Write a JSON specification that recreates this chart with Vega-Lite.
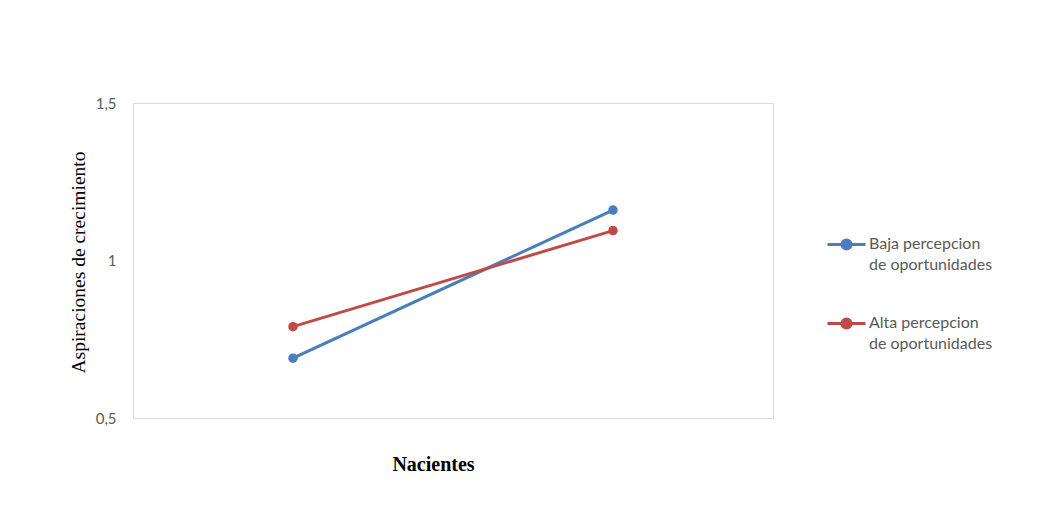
{
  "$schema": "https://vega.github.io/schema/vega-lite/v6.json",
  "autosize": "none",
  "width": 640,
  "height": 315,
  "padding": {"left": 133, "top": 103, "right": 266, "bottom": 98},
  "background": "white",
  "config": {
    "view": {"stroke": "#d9d9d9", "strokeWidth": 1},
    "axis": {"grid": false}
  },
  "data": {
    "values": [
      {"nivel": "Bajo", "serie": "Baja percepcion de oportunidades", "valor": 0.69},
      {"nivel": "Alto", "serie": "Baja percepcion de oportunidades", "valor": 1.16},
      {"nivel": "Bajo", "serie": "Alta percepcion de oportunidades", "valor": 0.79},
      {"nivel": "Alto", "serie": "Alta percepcion de oportunidades", "valor": 1.095}
    ]
  },
  "encoding": {
    "x": {
      "field": "nivel", "type": "ordinal", "sort": ["Bajo", "Alto"],
      "scale": {"type": "point", "padding": 0.5},
      "axis": {
        "title": "Nacientes", "labels": false, "ticks": false, "domain": false,
        "titleFont": "Liberation Serif", "titleFontSize": 20, "titleFontWeight": "bold",
        "titleColor": "#000000", "titleX": 300, "titleY": 46, "titleBaseline": "middle"
      }
    },
    "y": {
      "field": "valor", "type": "quantitative",
      "scale": {"domain": [0.5, 1.5], "nice": false, "zero": false},
      "axis": {
        "values": [0.5, 1, 1.5], "format": "~g",
        "labelExpr": "replace(datum.label, '.', ',')",
        "ticks": false, "domain": false, "labelPadding": 17,
        "labelFont": "Lato", "labelFontSize": 15, "labelColor": "#595959",
        "title": "Aspiraciones de crecimiento",
        "titleFont": "Liberation Serif", "titleFontSize": 19.5, "titleFontWeight": "normal",
        "titleColor": "#000000", "titleX": -55, "titleY": 159, "titleBaseline": "middle", "titleAlign": "center"
      }
    },
    "color": {
      "field": "serie", "type": "nominal",
      "sort": ["Baja percepcion de oportunidades", "Alta percepcion de oportunidades"],
      "scale": {"domain": ["Baja percepcion de oportunidades", "Alta percepcion de oportunidades"], "range": ["#4A7EBB", "#BE4B48"]},
      "legend": {
        "title": null, "orient": "none", "legendX": 693, "legendY": 121,
        "symbolType": "M-1,0H1M0.24,0A0.24,0.24,0,1,1,-0.24,0A0.24,0.24,0,1,1,0.24,0Z",
        "symbolSize": 1444, "symbolStrokeWidth": 3,
        "labelExpr": "[slice(datum.label, 0, 15), slice(datum.label, 16)]",
        "labelFont": "Lato", "labelFontSize": 16, "labelColor": "#595959",
        "labelBaseline": "top", "labelOffset": 2,
        "rowPadding": 30, "labelLimit": 300,
        "encode": {
          "symbols": {"update": {"fill": {"scale": "color", "field": "value"}, "fillOpacity": {"value": 1}}},
          "labels": {"update": {"dy": {"value": -9}, "lineHeight": {"value": 21}}}
        }
      }
    }
  },
  "layer": [
    {"mark": {"type": "line", "strokeWidth": 3}},
    {"mark": {"type": "point", "filled": true, "size": 90, "opacity": 1}}
  ]
}
